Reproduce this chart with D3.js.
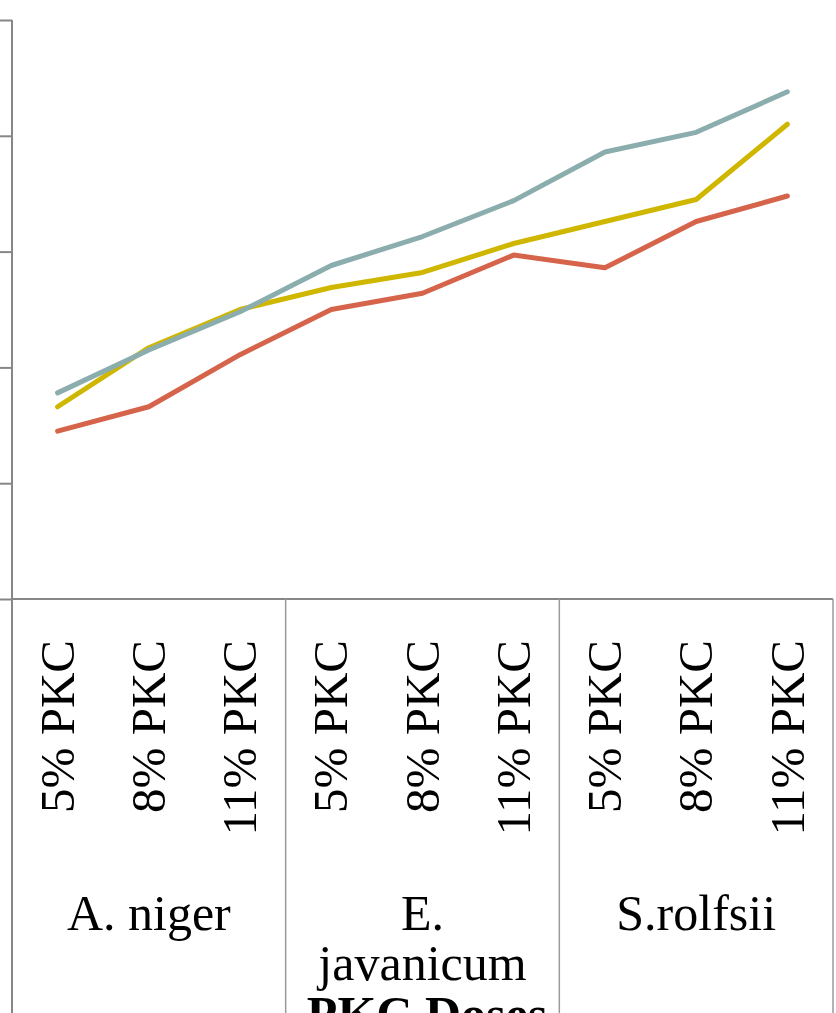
<!DOCTYPE html>
<html>
<head>
<meta charset="utf-8">
<script src="https://cdn.jsdelivr.net/npm/d3@7"></script>
<style>
  html, body { margin: 0; padding: 0; background: #fff; overflow: hidden; }
  svg { display: block; }
  text { font-family: "Liberation Serif", "Times New Roman", serif; fill: #000; }
</style>
</head>
<body>
<svg id="chart" width="836" height="1013"></svg>
<script>
// Dose levels within each fungus group
const doses = ["5% PKC", "8% PKC", "11% PKC"];
// Fungus groups on the outer category level
const groups = [["A. niger"], ["E.", "javanicum"], ["S.rolfsii"]];
// Y-axis tick values (labels fall outside the drawn area)
const yTicks = [0, 1, 2, 3, 4, 5];

// Series values, one per dose in group order
const series1 = [1.45, 1.66, 2.11, 2.50, 2.64, 2.97, 2.86, 3.26, 3.48];
const series2 = [1.66, 2.17, 2.50, 2.69, 2.82, 3.07, 3.26, 3.45, 4.10];
const series3 = [1.78, 2.15, 2.48, 2.88, 3.13, 3.44, 3.86, 4.03, 4.38];

const seriesList = [
  { values: series1, color: "#d5644b" },
  { values: series2, color: "#cfb700" },
  { values: series3, color: "#8badad" }
];

const svg = d3.select("#chart");
const plotLeft = 12, plotRight = 833, plotTop = 20, axisY = 599, plotBottom = 1013;
const axisColor = "#878787";

// Flattened category keys: group index + dose
const cats = [];
groups.forEach((g, gi) => doses.forEach(d => cats.push(gi + "|" + d)));

const x = d3.scaleBand().domain(cats).range([plotLeft, plotRight]).padding(0);
const xGroup = d3.scaleBand().domain(d3.range(groups.length)).range([plotLeft, plotRight]).padding(0);
const y = d3.scaleLinear().domain([0, 5]).range([axisY, plotTop]);

// Value axis with outward ticks
const yAxis = d3.axisLeft(y).tickValues(yTicks).tickSize(12).tickFormat("");
const ya = svg.append("g").attr("transform", `translate(${plotLeft},0)`).call(yAxis);
ya.select(".domain").remove();
ya.selectAll(".tick line").attr("stroke", axisColor).attr("stroke-width", 2);
svg.append("line")
  .attr("x1", plotLeft).attr("x2", plotLeft).attr("y1", y(5)).attr("y2", plotBottom)
  .attr("stroke", axisColor).attr("stroke-width", 2);

// Category axis line
svg.append("line")
  .attr("x1", plotLeft).attr("x2", plotRight).attr("y1", axisY).attr("y2", axisY)
  .attr("stroke", axisColor).attr("stroke-width", 2);

// Group dividers in the category area
d3.range(1, groups.length + 1).forEach(i => {
  const gx = i < groups.length ? xGroup(i) : plotRight;
  svg.append("line")
    .attr("x1", gx).attr("x2", gx).attr("y1", axisY).attr("y2", plotBottom)
    .attr("stroke", "#9a9a9a").attr("stroke-width", 1.5);
});

// Rotated dose labels
svg.append("g").selectAll("text")
  .data(cats)
  .join("text")
  .attr("transform", d => `translate(${x(d) + x.bandwidth() / 2},640) rotate(-90)`)
  .attr("text-anchor", "end")
  .attr("dy", "0.33em")
  .attr("font-size", 49)
  .text(d => d.split("|")[1]);

// Group labels
const gl = svg.append("g").selectAll("text")
  .data(groups)
  .join("text")
  .attr("x", (d, i) => xGroup(i) + xGroup.bandwidth() / 2)
  .attr("y", 930)
  .attr("text-anchor", "middle")
  .attr("font-size", 50);
gl.selectAll("tspan")
  .data(d => d)
  .join("tspan")
  .attr("x", function() { return d3.select(this.parentNode).attr("x"); })
  .attr("dy", (d, i) => i === 0 ? 0 : 50)
  .text(d => d);

// Axis title
svg.append("text")
  .attr("x", 427).attr("y", 1031)
  .attr("text-anchor", "middle")
  .attr("font-size", 50)
  .attr("font-weight", "bold")
  .text("PKC Doses");

// Series lines
const line = d3.line()
  .x((v, i) => x(cats[i]) + x.bandwidth() / 2)
  .y(v => y(v));

svg.append("g").selectAll("path")
  .data(seriesList)
  .join("path")
  .attr("d", s => line(s.values))
  .attr("fill", "none")
  .attr("stroke", s => s.color)
  .attr("stroke-width", 5)
  .attr("stroke-linecap", "round")
  .attr("stroke-linejoin", "round");
</script>
</body>
</html>
